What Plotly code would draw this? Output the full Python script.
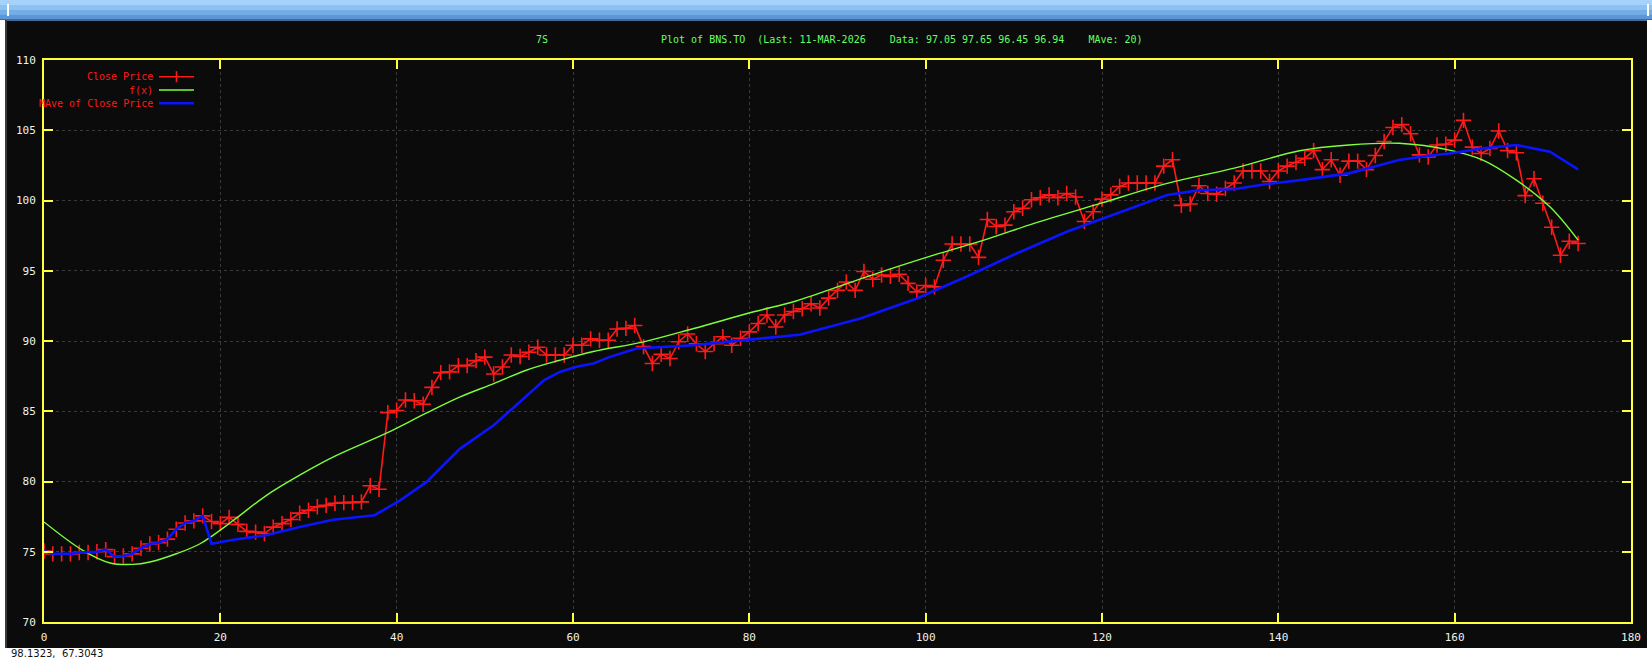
import plotly.graph_objects as go

# ---------------- data ----------------
close_price = [
    75.05, 74.85, 74.85, 74.85, 74.95, 74.95, 75.0, 75.15, 74.65, 74.7,
    74.85, 75.25, 75.55, 75.65, 75.9, 76.6, 77.05, 77.2, 77.55, 77.15,
    77.0, 77.45, 76.95, 76.45, 76.4, 76.3, 76.75, 77.0, 77.3, 77.75,
    77.95, 78.2, 78.3, 78.45, 78.5, 78.5, 78.55, 79.7, 79.45, 84.9,
    85.05, 85.8, 85.75, 85.5, 86.7, 87.75, 87.8, 88.25, 88.25, 88.6,
    88.85, 87.65, 88.15, 89.0, 88.9, 89.2, 89.55, 89.0, 89.0, 89.0,
    89.7, 89.7, 90.15, 90.05, 90.05, 90.85, 90.9, 91.1, 89.6, 88.4,
    89.05, 88.75, 89.95, 90.5, 89.8, 89.25, 89.8, 90.3, 89.7, 90.2,
    90.65, 91.25, 91.85, 91.0, 91.85, 92.1, 92.3, 92.65, 92.35, 93.05,
    93.6, 94.2, 93.6, 94.95, 94.4, 94.7, 94.6, 94.75, 94.1, 93.5,
    93.95, 93.85, 95.75, 96.9, 96.9, 96.9, 95.95, 98.65, 98.15, 98.25,
    99.2, 99.45, 100.05, 100.2, 100.4, 100.2, 100.5, 100.25, 98.5, 99.2,
    100.1, 100.4, 101.0, 101.25, 101.25, 101.25, 101.25, 102.45, 102.9, 99.65,
    99.75, 101.05, 100.5, 100.45, 100.85, 101.25, 102.1, 102.1, 102.1, 101.35,
    102.1, 102.45, 102.7, 103.0, 103.55, 102.2, 102.9, 101.8, 102.8, 102.8,
    102.2, 103.2, 104.2, 105.2, 105.4, 104.75, 103.25, 103.1, 103.95, 104.0,
    104.3, 105.7, 103.8, 103.35, 103.7, 104.95, 103.55, 103.4, 100.35, 101.55,
    99.8, 98.1, 96.1, 97.1, 96.94,
]
day_index = list(range(len(close_price)))

# fitted curve f(x), sampled along the drawn curve
fx_x = [0, 4.4, 7.5, 10.1, 12, 15, 17.7, 21.5, 25.2, 29, 33, 38.7, 43.4, 47.2,
        51, 54.7, 58.5, 62.3, 68, 73.7, 80.5, 85.3, 93.3, 100.9, 106.6, 112.3,
        119.8, 127.4, 135, 142.4, 148, 153.7, 159.4, 163.2, 167, 170.8, 174]
fx_y = [77.12, 75.1, 74.2, 74.1, 74.27, 74.86, 75.57, 77.24, 79.0, 80.45, 81.8,
        83.4, 84.88, 86.02, 86.97, 87.92, 88.63, 89.25, 89.94, 90.89, 92.08,
        92.85, 94.57, 96.11, 97.18, 98.37, 99.79, 101.22, 102.3, 103.54, 103.95,
        104.07, 103.59, 102.88, 101.45, 99.55, 97.18]

# 20-day moving average as drawn (follows the price for the first days)
ma_x = list(range(19)) + [19, 21.5, 25.2, 29, 32.8, 37.5, 40.4, 43.4, 47.2, 51,
                          54, 56.7, 58.5, 60.4, 62.3, 64.2, 67.2, 69.8, 73.6,
                          77.4, 81.2, 85.7, 92.6, 99, 104.6, 110.3, 116, 121.7,
                          127.4, 131.1, 134.9, 138.7, 142.5, 148, 153.7, 156.7,
                          159.4, 163.2, 167, 168.9, 170.8, 174]
ma_y = [75.05, 74.85, 74.85, 74.85, 74.95, 74.95, 75.0, 75.15, 74.65, 74.7,
        74.85, 75.25, 75.55, 75.65, 75.9, 76.6, 77.05, 77.2, 77.55] + \
       [75.57, 75.86, 76.17, 76.76, 77.28, 77.6, 78.66, 79.97, 82.34, 84.0,
        85.67, 87.2, 87.8, 88.16, 88.4, 88.87, 89.47, 89.58, 89.7,
        89.94, 90.18, 90.45, 91.6, 93.03, 94.57, 96.23, 97.77, 99.08,
        100.39, 100.74, 100.8, 101.17, 101.45, 101.93, 102.88, 103.16,
        103.35, 103.71, 103.95, 103.71, 103.47, 102.21]

x_ticks = list(range(0, 181, 20))
y_ticks = list(range(70, 111, 5))

series_names = ["Close Price", "f(x)", "MAve of Close Price"]
header_left = "7S"
header_main = "Plot of BNS.TO  (Last: 11-MAR-2026    Data: 97.05 97.65 96.45 96.94    MAve: 20)"
status_text = "98.1323,  67.3043"

# ---------------- styling ----------------
W, H = 1652, 658
L, R, T, B = 44, 21, 60, 36
PW, PH = W - L - R, H - T - B
RED, GREEN, BLUE, YEL = "#ff1a1a", "#7dff3a", "#0a14ff", "#ffff3c"
BG = "#0b0b0b"
MONO = "DejaVu Sans Mono"


def px(xp):
    return (xp - L) / PW


def py(yp):
    return (H - B - yp) / PH


fig = go.Figure()
fig.add_trace(go.Scatter(
    x=day_index, y=close_price, mode="lines+markers", name=series_names[0],
    line=dict(color=RED, width=1.6),
    marker=dict(symbol="cross-thin", size=11, line=dict(color=RED, width=1.6)),
))
fig.add_trace(go.Scatter(
    x=fx_x, y=fx_y, mode="lines", name=series_names[1],
    line=dict(color=GREEN, width=1.4, shape="spline", smoothing=1.0),
))
fig.add_trace(go.Scatter(
    x=ma_x, y=ma_y, mode="lines", name=series_names[2],
    line=dict(color=BLUE, width=2.6),
))

axis_common = dict(
    showline=True, linecolor=YEL, linewidth=2, mirror="ticks",
    ticks="inside", ticklen=9, tickwidth=2, tickcolor=YEL,
    showgrid=True, gridcolor="#3a3a3a", gridwidth=1, griddash="dot",
    zeroline=False, tickfont=dict(family=MONO, size=11, color="#f2f2e8"),
    fixedrange=True,
)
fig.update_xaxes(range=[0, 180], tickmode="array", tickvals=x_ticks,
                 ticktext=[str(v) for v in x_ticks], ticklabelstandoff=4,
                 **axis_common)
fig.update_yaxes(range=[70, 110], tickmode="array", tickvals=y_ticks,
                 ticktext=[str(v) for v in y_ticks], ticklabelstandoff=4,
                 **axis_common)

shapes = []
# window title bar (blue gradient)
bands = [(0, 5, "#a4d2fa"), (5, 10, "#8cc2f2"), (10, 15, "#74ade6"),
         (15, 19, "#5d96d4"), (19, 21, "#3f6b98")]
for y0, y1, c in bands:
    shapes.append(dict(type="rect", xref="paper", yref="paper",
                       x0=px(-2), x1=px(W + 2), y0=py(y1), y1=py(y0),
                       fillcolor=c, line=dict(width=0), layer="below"))
# little grips on title bar
for gx in (8, 1648):
    shapes.append(dict(type="line", xref="paper", yref="paper",
                       x0=px(gx), x1=px(gx), y0=py(16), y1=py(4),
                       line=dict(color="white", width=2)))
# left / right borders
shapes.append(dict(type="rect", xref="paper", yref="paper",
                   x0=px(-2), x1=px(5), y0=py(H + 2), y1=py(20),
                   fillcolor="white", line=dict(width=0)))
shapes.append(dict(type="rect", xref="paper", yref="paper",
                   x0=px(5), x1=px(7), y0=py(H + 2), y1=py(20),
                   fillcolor="#3a3a3a", line=dict(width=0)))
shapes.append(dict(type="rect", xref="paper", yref="paper",
                   x0=px(1647), x1=px(W + 2), y0=py(H + 2), y1=py(20),
                   fillcolor="white", line=dict(width=0)))
# bottom status strip
shapes.append(dict(type="rect", xref="paper", yref="paper",
                   x0=px(-2), x1=px(1647), y0=py(H + 2), y1=py(648),
                   fillcolor="white", line=dict(width=0)))

# legend samples (gnuplot style: label then sample)
legend_rows = [76.7, 90, 103.3]
sample_colors = [RED, GREEN, BLUE]
sample_widths = [1.6, 1.4, 2.6]
for yy, c, w in zip(legend_rows, sample_colors, sample_widths):
    shapes.append(dict(type="line", xref="paper", yref="paper",
                       x0=px(159), x1=px(194), y0=py(yy), y1=py(yy),
                       line=dict(color=c, width=w)))
shapes.append(dict(type="line", xref="paper", yref="paper",
                   x0=px(176.5), x1=px(176.5), y0=py(legend_rows[0] + 5.5),
                   y1=py(legend_rows[0] - 5.5), line=dict(color=RED, width=1.6)))

annotations = []
for name, yy in zip(series_names, legend_rows):
    annotations.append(dict(text=name, xref="paper", yref="paper",
                            x=px(155), y=py(yy), xanchor="right",
                            yanchor="middle", showarrow=False,
                            font=dict(family=MONO, size=10, color=RED)))
annotations.append(dict(text=header_left, xref="paper", yref="paper",
                        x=px(534), y=py(39), xanchor="left", yanchor="middle",
                        showarrow=False,
                        font=dict(family=MONO, size=10, color="#66ff66")))
annotations.append(dict(text=header_main.replace(" ", "\u00a0"), xref="paper",
                        yref="paper", x=px(659), y=py(39), xanchor="left",
                        yanchor="middle", showarrow=False,
                        font=dict(family=MONO, size=10, color="#66ff66")))
annotations.append(dict(text=status_text.replace(" ", "\u00a0"), xref="paper",
                        yref="paper", x=px(9), y=py(653), xanchor="left",
                        yanchor="middle", showarrow=False,
                        font=dict(family="DejaVu Sans", size=10, color="#111111")))

fig.update_layout(
    width=W, height=H, autosize=False,
    margin=dict(l=L, r=R, t=T, b=B, pad=0),
    paper_bgcolor=BG, plot_bgcolor=BG,
    showlegend=False, shapes=shapes, annotations=annotations,
)

fig.write_html(
    "out.html", config={"displayModeBar": False},
    post_script="document.body.style.margin='0';document.body.style.overflow='hidden';",
)
